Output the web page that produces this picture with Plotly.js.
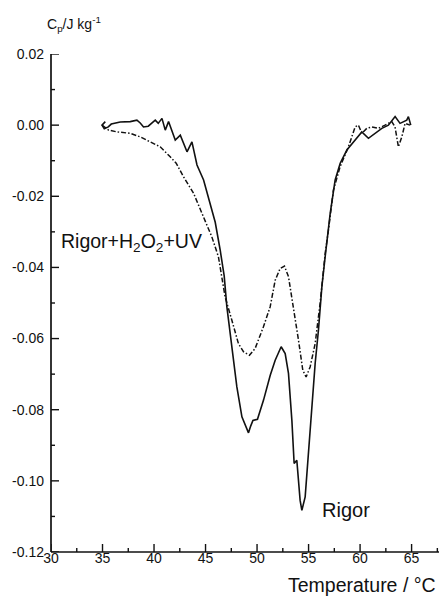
<!DOCTYPE html>
<html>
<head>
<meta charset="utf-8">
<script src="https://cdn.plot.ly/plotly-3.0.1.min.js"></script>
<style>
html,body{margin:0;padding:0;background:#fff;}
#chart{width:439px;height:599px;}
</style>
</head>
<body>
<div id="chart"></div>
<script>
// Rigor (solid)
var rigorT = [35.27,34.95,35.17,35.56,35.85,36.72,37.69,38.34,38.66,38.98,39.44,39.63,39.92,40.12,40.41,40.77,41.09,41.41,41.77,42.06,42.55,43.20,43.68,44.17,44.81,45.45,45.94,46.42,46.81,47.07,47.56,48.04,48.53,48.85,49.17,49.38,49.60,50.04,50.63,51.28,51.76,52.34,52.73,53.05,53.38,53.60,53.86,54.18,54.35,54.67,55.16,55.64,55.96,56.29,56.61,57.10,57.58,58.07,58.72,59.36,59.84,60.17,60.81,61.46,62.11,62.75,63.40,63.88,64.53,64.69,64.92];
var rigorCp = [0.0010,0.0000,-0.0010,-0.0005,0.0003,0.0009,0.0010,0.0014,0.0006,-0.0005,-0.0003,0.0003,0.0009,0.0014,0.0005,0.0019,-0.0014,0.0010,-0.0022,-0.0042,-0.0028,-0.0075,-0.0047,-0.0112,-0.0154,-0.0220,-0.0273,-0.0351,-0.0424,-0.0511,-0.0633,-0.0736,-0.0820,-0.0844,-0.0865,-0.0846,-0.0830,-0.0827,-0.0773,-0.0703,-0.0661,-0.0623,-0.0642,-0.0698,-0.0830,-0.0951,-0.0942,-0.1055,-0.1083,-0.1045,-0.0858,-0.0670,-0.0576,-0.0455,-0.0370,-0.0248,-0.0154,-0.0107,-0.0070,-0.0047,-0.0028,-0.0019,-0.0037,-0.0023,-0.0009,0.0000,0.0024,0.0005,0.0014,0.0024,0.0000];

// Rigor + H2O2 + UV (dash-dot)
var uvT = [34.95,35.59,36.41,37.69,38.66,39.63,40.60,41.57,42.15,42.86,43.83,44.80,45.61,46.25,46.58,46.90,47.55,48.19,48.68,49.26,49.81,50.62,51.27,51.76,52.24,52.66,53.05,53.53,54.02,54.44,54.76,55.15,55.64,56.12,56.61,56.93,57.41,58.06,58.87,59.52,59.84,60.17,60.65,61.14,61.78,62.42,63.07,63.39,63.72,64.05,64.37,64.85];
var uvCp = [0.0000,-0.0014,-0.0019,-0.0023,-0.0033,-0.0047,-0.0061,-0.0089,-0.0107,-0.0145,-0.0191,-0.0258,-0.0314,-0.0370,-0.0426,-0.0483,-0.0548,-0.0614,-0.0637,-0.0647,-0.0628,-0.0567,-0.0511,-0.0436,-0.0403,-0.0396,-0.0426,-0.0511,-0.0604,-0.0689,-0.0708,-0.0680,-0.0614,-0.0501,-0.0361,-0.0295,-0.0183,-0.0117,-0.0061,-0.0005,0.0000,-0.0023,-0.0009,-0.0005,-0.0009,0.0000,0.0010,-0.0005,-0.0061,-0.0033,0.0005,0.0000];

var xTickVals = [30,35,40,45,50,55,60,65];
var xTickText = ['30','35','40','45','50','55','60','65'];
var xMinorVals = [32.5,37.5,42.5,47.5,52.5,57.5,62.5,67.5];
var yTickVals = [0.02,0.00,-0.02,-0.04,-0.06,-0.08,-0.10,-0.12];
var yTickText = ['0.02','0.00','-0.02','-0.04','-0.06','-0.08','-0.10','-0.12'];
var yMinorVals = [0.01,-0.01,-0.03,-0.05,-0.07,-0.09,-0.11];

var FONT = 'Liberation Sans, Arial, Helvetica, sans-serif';
var INK = '#111111';

var traces = [
  {x: rigorT, y: rigorCp, type: 'scatter', mode: 'lines', name: 'Rigor',
   line: {color: INK, width: 1.6}},
  {x: uvT, y: uvCp, type: 'scatter', mode: 'lines', name: 'Rigor+H2O2+UV',
   line: {color: INK, width: 1.5, dash: '5px,2px,1.5px,2px'}}
];

// axis lines and tick marks as shapes (built from the tick arrays)
var shapes = [
  {type: 'line', xref: 'paper', yref: 'paper', x0: 0, x1: 1, y0: 0, y1: 0, line: {color: INK, width: 1.7}},
  {type: 'line', xref: 'paper', yref: 'paper', x0: 0, x1: 0, y0: 0, y1: 1, line: {color: INK, width: 1.7}}
];
function xTick(v, len) {
  return {type: 'line', xref: 'x', yref: 'paper', ysizemode: 'pixel', yanchor: 0,
          x0: v, x1: v, y0: 0, y1: len, line: {color: INK, width: 1.4}};
}
function yTick(v, len) {
  return {type: 'line', yref: 'y', xref: 'paper', xsizemode: 'pixel', xanchor: 0,
          y0: v, y1: v, x0: 0, x1: len, line: {color: INK, width: 1.4}};
}
xTickVals.forEach(function(v){ shapes.push(xTick(v, 8)); });
xMinorVals.forEach(function(v){ shapes.push(xTick(v, 4)); });
yTickVals.forEach(function(v){ shapes.push(yTick(v, 8)); });
yMinorVals.forEach(function(v){ shapes.push(yTick(v, 4)); });

var layout = {
  width: 439, height: 599,
  margin: {l: 51, r: 0, t: 54, b: 47},
  paper_bgcolor: '#ffffff', plot_bgcolor: '#ffffff',
  showlegend: false,
  font: {family: FONT, color: INK, size: 14},
  xaxis: {
    range: [30, 67.66], showgrid: false, zeroline: false, showline: false,
    tickmode: 'array', tickvals: xTickVals, ticktext: xTickText,
    ticks: '', ticklabelstandoff: -4,
    tickfont: {family: FONT, size: 14, color: INK}
  },
  yaxis: {
    range: [-0.12, 0.02], showgrid: false, zeroline: false, showline: false,
    tickmode: 'array', tickvals: yTickVals, ticktext: yTickText,
    ticks: '', ticklabelstandoff: 6,
    tickfont: {family: FONT, size: 14, color: INK}
  },
  shapes: shapes,
  annotations: [
    {text: 'Rigor+H<sub>2</sub>O<sub>2</sub>+UV', xref: 'x', yref: 'y', x: 30.8, y: -0.0329,
     xanchor: 'left', yanchor: 'middle', showarrow: false, font: {family: FONT, size: 19.5, color: INK}},
    {text: 'Rigor', xref: 'x', yref: 'y', x: 56.12, y: -0.1083,
     xanchor: 'left', yanchor: 'middle', showarrow: false, font: {family: FONT, size: 20, color: INK}},
    {text: 'Temperature / °C', xref: 'paper', yref: 'paper', x: 1, y: -0.066, xshift: -1,
     xanchor: 'right', yanchor: 'middle', showarrow: false, font: {family: FONT, size: 19.5, color: INK}},
    {text: 'C<sub>p</sub>/J kg<sup>-1</sup>', xref: 'paper', yref: 'paper', x: -0.015, y: 1.060,
     xanchor: 'left', yanchor: 'middle', showarrow: false, font: {family: FONT, size: 14, color: INK}}
  ]
};

Plotly.newPlot('chart', traces, layout, {displayModeBar: false});
</script>
</body>
</html>
